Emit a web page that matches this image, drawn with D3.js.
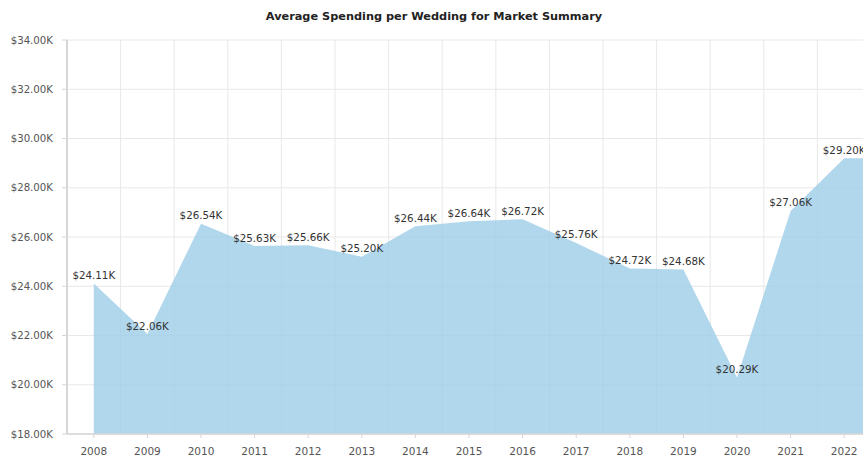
<!DOCTYPE html>
<html>
<head>
<meta charset="utf-8">
<script src="https://cdn.jsdelivr.net/npm/d3@7"></script>
<style>
  html, body { margin: 0; padding: 0; background: #fff; }
  svg { display: block; font-family: "DejaVu Sans", Verdana, sans-serif; }
</style>
</head>
<body>
<svg id="chart" width="863" height="459"></svg>
<script>
// Average spending per wedding, thousands of dollars
const years = ["2008", "2009", "2010", "2011", "2012", "2013", "2014", "2015",
               "2016", "2017", "2018", "2019", "2020", "2021", "2022"];
const spending = [24.11, 22.06, 26.54, 25.63, 25.66, 25.20, 26.44, 26.64,
                  26.72, 25.76, 24.72, 24.68, 20.29, 27.06, 29.20];
const yTicks = [18, 20, 22, 24, 26, 28, 30, 32, 34];
const title = "Average Spending per Wedding for Market Summary";

(function () {
  const svg = d3.select("#chart");
  const plotLeft = 67, plotRight = 871, plotTop = 40, plotBottom = 434;

  const x = d3.scalePoint().domain(years).range([plotLeft, plotRight]).padding(0.5);
  const y = d3.scaleLinear().domain([18, 34]).range([plotBottom, plotTop]);
  const step = x.step();
  const fmt = v => "$" + d3.format(".2f")(v) + "K";

  // title
  svg.append("text")
    .attr("x", 434).attr("y", 20)
    .attr("text-anchor", "middle")
    .attr("font-size", 11.3).attr("font-weight", "bold")
    .attr("fill", "#222")
    .text(title);

  // grid
  const grid = svg.append("g");
  grid.selectAll("line.h").data(yTicks).join("line")
    .attr("x1", plotLeft).attr("x2", plotRight)
    .attr("y1", d => y(d)).attr("y2", d => y(d))
    .attr("stroke", "#e8e8e8").attr("stroke-width", 1);
  const bounds = years.map(d => x(d) - step / 2)
    .concat([x(years[years.length - 1]) + step / 2]);
  grid.selectAll("line.v").data(bounds).join("line")
    .attr("x1", d => d).attr("x2", d => d)
    .attr("y1", plotTop).attr("y2", plotBottom)
    .attr("stroke", "#e8e8e8").attr("stroke-width", 1);

  // area; the last value carries on to the edge of the plot
  const pts = years.map((yr, i) => [x(yr), spending[i]]);
  pts.push([plotRight, spending[spending.length - 1]]);
  const area = d3.area()
    .x(d => d[0])
    .y0(y(18))
    .y1(d => y(d[1]))
    .curve(d3.curveLinear);
  svg.append("path")
    .datum(pts)
    .attr("d", area)
    .attr("fill", "#9dcde7")
    .attr("fill-opacity", 0.8);

  // y axis
  const yAxis = svg.append("g");
  yAxis.append("line")
    .attr("x1", plotLeft).attr("x2", plotLeft)
    .attr("y1", plotTop).attr("y2", plotBottom)
    .attr("stroke", "#d6d6d6").attr("stroke-width", 2);
  yAxis.selectAll("line.t").data(yTicks).join("line")
    .attr("x1", plotLeft - 5).attr("x2", plotLeft)
    .attr("y1", d => y(d)).attr("y2", d => y(d))
    .attr("stroke", "#d6d6d6");
  yAxis.selectAll("text").data(yTicks).join("text")
    .attr("x", plotLeft - 14).attr("y", d => y(d) + 3.5)
    .attr("text-anchor", "end")
    .attr("font-size", 10.2).attr("fill", "#555")
    .text(d => fmt(d));

  // x axis
  const xAxis = svg.append("g");
  xAxis.append("line")
    .attr("x1", plotLeft).attr("x2", plotRight)
    .attr("y1", plotBottom).attr("y2", plotBottom)
    .attr("stroke", "#d6d6d6").attr("stroke-width", 1.5);
  xAxis.selectAll("line.t").data(years).join("line")
    .attr("x1", d => x(d)).attr("x2", d => x(d))
    .attr("y1", plotBottom).attr("y2", plotBottom + 4)
    .attr("stroke", "#d6d6d6");
  xAxis.selectAll("text").data(years).join("text")
    .attr("x", d => x(d)).attr("y", plotBottom + 21)
    .attr("text-anchor", "middle")
    .attr("font-size", 10.5).attr("fill", "#555")
    .text(d => d);

  // value labels
  svg.append("g").selectAll("text").data(years).join("text")
    .attr("x", d => x(d))
    .attr("y", (d, i) => y(spending[i]) - 4.5)
    .attr("text-anchor", "middle")
    .attr("font-size", 10.3).attr("fill", "#333")
    .text((d, i) => fmt(spending[i]));
})();
</script>
</body>
</html>
